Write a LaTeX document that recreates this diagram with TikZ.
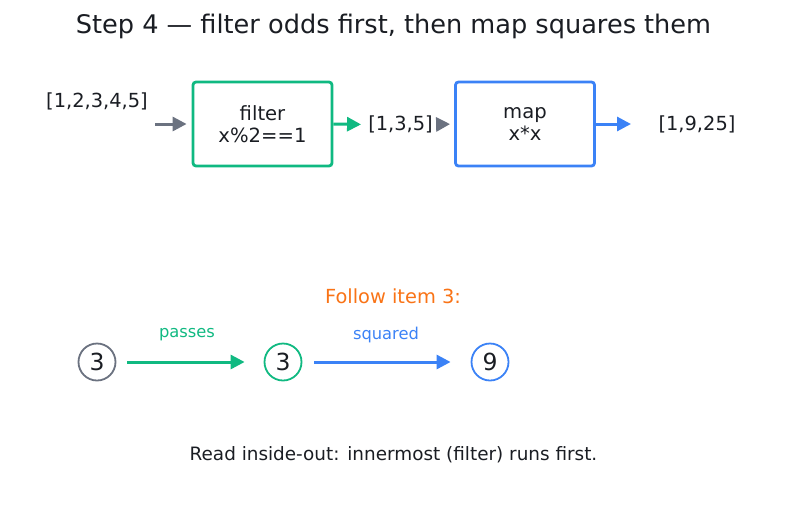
\documentclass[tikz,border=0pt]{standalone}
\usepackage{fontspec}
\setmainfont{DejaVu Sans}
\usetikzlibrary{arrows.meta}
\definecolor{ink}{HTML}{1A1D23}
\definecolor{gry}{HTML}{6B7280}
\definecolor{grn}{HTML}{10B981}
\definecolor{blu}{HTML}{3B82F6}
\definecolor{org}{HTML}{F97316}
\tikzset{
  fn/.style={draw, line width=2.8pt, rounded corners=3pt, minimum width=139pt, minimum height=84pt, align=center, text=ink, font=\fontsize{19.6}{22.5}\selectfont, inner sep=0pt},
  lst/.style={text=ink, font=\fontsize{19.4}{22}\selectfont, inner sep=0pt},
  arr/.style={line width=3pt, -{Triangle[length=14pt,width=14pt]}},
  val/.style={circle, draw, line width=1.8pt, minimum size=37pt, inner sep=0pt, text=ink, font=\fontsize{23.5}{26}\selectfont},
  lbl/.style={font=\fontsize{16.3}{19}\selectfont, inner sep=0pt}
}
\begin{document}
\begin{tikzpicture}[x=1pt,y=-1pt]
\useasboundingbox (0,0) rectangle (787,512);
\node[text=ink, font=\fontsize{25.6}{30}\selectfont] (title) at (393.5,26) {Step 4 — filter odds first, then map squares them};
\node[lst] (in) at (97,101) {[1,2,3,4,5]};
\coordinate (a0) at (155,124);
\node[fn, draw=grn] (filt) at (262.5,124) {filter\\x\%2==1};
\node[lst] (mid) at (400.5,124.5) {[1,3,5]};
\node[fn, draw=blu] (map) at (525,124) {map\\x*x};
\coordinate (a3) at (631,124);
\node[lst] (out) at (697,124.5) {[1,9,25]};
\draw[arr, gry, shorten >=5pt] (a0) -- (filt.west);
\draw[arr, grn, shorten >=7pt] (filt.east) -- (mid.west);
\draw[arr, gry, shorten <=5pt, shorten >=4pt] (mid.east) -- (map.west);
\draw[arr, blu] (map.east) -- (a3);
\node[text=org, font=\fontsize{19.4}{22}\selectfont] (follow) at (393,296) {Follow item 3:};
\node[val, draw=gry] (c1) at (97,362) {3};
\node[val, draw=grn] (c2) at (283,362) {3};
\node[val, draw=blu] (c3) at (490,362) {9};
\draw[arr, grn, shorten <=11pt, shorten >=19pt] (c1) -- (c2);
\draw[arr, blu, shorten <=12pt, shorten >=20pt] (c2) -- (c3);
\node[lbl, text=grn] (p) at (187,335) {passes};
\node[lbl, text=blu] (s) at (386,335) {squared};
\node[text=ink, font=\fontsize{18.4}{22}\selectfont] (note) at (393.5,455) {Read inside-out: innermost (filter) runs first.};
\end{tikzpicture}
\end{document}
